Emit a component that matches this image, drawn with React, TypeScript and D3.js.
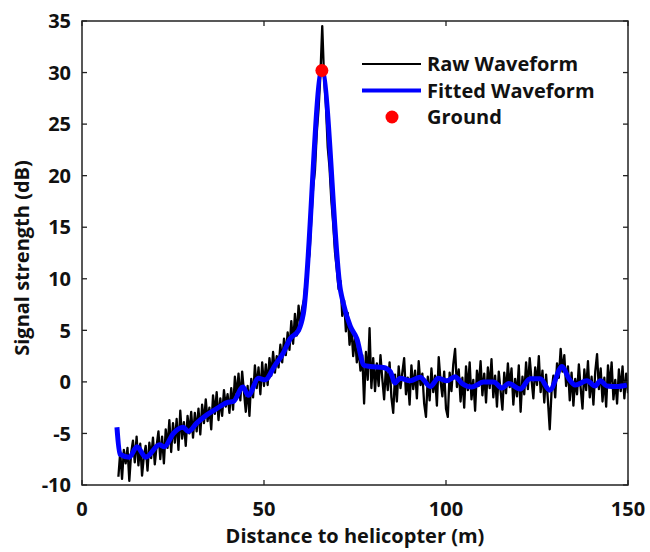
import React from "react";
import * as d3 from "d3";

// Raw waveform: signal strength (dB), sampled every 0.5 m from 10 m to 150 m
const rawStart = 10;
const rawStep = 0.5;
const rawSignal: number[] = [
  // 10.0 - 20.0
  -9.2, -6.8, -9.4, -6.6, -7.9, -6.4, -9.6, -6.9, -5.7, -7.8, -5.3, -8.1, -6.0, -9.1, -7.2, -6.2, -8.6, -5.9, -7.4, -5.4, -8.0,
  // 20.5 - 30.0
  -6.2, -4.8, -7.5, -5.3, -7.9, -4.6, -6.4, -3.7, -6.8, -4.0, -5.9, -3.6, -6.6, -2.8, -5.5, -3.9, -6.2, -3.3, -5.0, -2.9,
  // 30.5 - 40.0
  -5.4, -3.0, -4.8, -2.6, -5.1, -2.2, -4.0, -1.7, -3.8, -2.5, -4.6, -1.3, -3.1, -1.0, -3.7, -1.6, -3.3, -0.8, -2.4, -1.2,
  // 40.5 - 50.0
  -3.0, -0.6, -2.7, 0.5, -1.4, 0.8, -1.8, 1.0, -1.0, -2.9, -0.4, -3.3, 0.3, -1.5, 1.6, -0.6, 1.4, -1.2, 1.9, -0.4,
  // 50.5 - 60.0
  1.7, -0.3, 2.3, 0.6, 2.9, 0.9, 2.5, 1.4, 3.6, 1.9, 4.2, 2.6, 4.8, 3.1, 5.9, 3.7, 6.6, 4.5, 7.4, 5.6,
  // 60.5 - 80.0
  7.2, 8.0, 9.9, 11.2, 12.4, 15.8, 18.9, 20.5, 24.2, 26.5, 29.8, 34.5, 29.5, 26.9, 22.8, 20.8, 17.6, 15.4, 12.6, 10.9,
  9.0, 9.8, 6.4, 7.9, 4.9, 6.7, 3.6, 5.3, 2.5, 4.4, 1.9, 3.2, 1.1, 2.6, -2.1, 2.9, 0.2, 5.2, -0.6, 2.3,
  // 80.5 - 100.0
  -0.9, 1.8, -0.4, 2.6, 0.3, -1.7, 1.4, -0.8, 1.9, -1.5, -3.0, 0.7, -1.9, 1.5, -0.6, 0.9, 2.3, -1.2, 0.4, -2.2,
  1.6, -0.7, 1.1, -1.6, 2.0, -0.3, 0.8, -2.1, -3.4, 0.5, -1.8, 1.3, -1.0, 0.6, -2.3, 2.4, 0.1, -1.4, 1.0, -2.6,
  // 100.5 - 120.0
  -3.4, 0.9, -0.9, 1.7, 3.2, -0.5, 1.2, -1.9, 0.4, -2.5, 1.5, -0.8, 1.9, -1.7, 0.2, -2.8, 1.1, -0.4, 2.0, -1.3,
  0.8, -2.0, 1.4, -0.6, 2.2, -1.5, 0.6, -2.4, 1.0, -0.9, -2.7, 0.9, -1.1, 1.8, -0.5, 1.3, -2.2, 0.3, -1.4, 1.6,
  // 120.5 - 140.0
  -2.9, 0.5, -1.2, 1.9, -0.7, 2.3, 0.2, -1.6, 1.4, -0.3, 2.5, -1.0, 1.1, -2.0, 0.7, -1.8, -4.6, -0.9, 0.6, -1.5,
  1.8, 0.4, 3.2, 1.0, 2.6, -0.4, 1.5, -1.8, 0.9, -2.3, 0.3, -1.2, 1.7, -0.6, -2.6, 1.2, -0.8, 2.0, -1.5, 0.5,
  // 140.5 - 150.0
  -2.2, 1.0, 2.7, -0.7, 1.3, -1.9, 0.4, -2.4, 1.6, -0.5, 1.9, -1.7, 0.2, -2.1, 1.2, -0.9, 1.5, -1.6, 0.8, -1.1,
];

// Fitted waveform nodes
const fitDistance: number[] = [
  9.6, 10.4, 13.0, 15.1, 17.5, 21.3, 22.6, 25.1, 27.8, 29.2, 31.5, 34.3, 37.0, 39.8, 41.6, 44.2, 45.7, 48.5, 50.3,
  53.0, 55.3, 57.2, 59.5, 60.8, 65.9, 71.0, 71.8, 73.7, 75.5, 77.5, 79.2, 82.8, 84.7, 86.0, 87.4, 90.2, 92.9, 95.7,
  97.9, 100.2, 102.5, 104.4, 107.1, 110.3, 113.1, 115.4, 117.2, 120.4, 123.1, 125.9, 128.5, 131.9, 133.7, 135.5,
  138.7, 141.0, 142.4, 144.2, 146.9, 149.7,
];
const fitSignal: number[] = [
  -4.4, -7.0, -7.3, -6.3, -7.3, -6.1, -6.3, -5.0, -4.4, -4.8, -4.0, -3.2, -2.6, -2.0, -1.9, -0.5, -1.3, 0.35, 0.2,
  1.6, 2.8, 4.2, 5.0, 6.6, 30.2, 8.9, 7.6, 5.4, 4.2, 1.6, 1.5, 1.4, 1.0, -0.1, 0.35, 0.1, 0.45, -0.45,
  0.35, 0.1, 0.5, -0.15, -0.5, 0.0, 0.0, -0.6, -0.15, -0.7, 0.3, 0.3, -0.8, 1.5, 0.35, -0.3,
  0.1, -0.4, 0.1, -0.4, -0.45, -0.3,
];

const groundDistance = 65.9;
const groundSignal = 30.2;

const xTicks = [0, 50, 100, 150];
const yTicks = [-10, -5, 0, 5, 10, 15, 20, 25, 30, 35];
const legendLabels = ["Raw Waveform", "Fitted Waveform", "Ground"];

const W = 650;
const H = 552;
const M = { left: 82, right: 22, top: 21, bottom: 67 };
const FONT = "'Open Sans', sans-serif";
const FS = 20;

export default function App() {
  const x = d3.scaleLinear().domain([0, 150]).range([M.left, W - M.right]);
  const y = d3.scaleLinear().domain([-10, 35]).range([H - M.bottom, M.top]);

  const rawPts: [number, number][] = rawSignal.map((v, i) => [rawStart + i * rawStep, v]);
  const fitPts: [number, number][] = fitDistance.map((d, i) => [d, fitSignal[i]]);

  const rawLine = d3
    .line<[number, number]>()
    .x((d) => x(d[0]))
    .y((d) => y(d[1]));
  const fitLine = d3
    .line<[number, number]>()
    .x((d) => x(d[0]))
    .y((d) => y(d[1]))
    .curve(d3.curveMonotoneX);

  const x0 = x(0), x1 = x(150), y0 = y(-10), y1 = y(35);
  const tl = 5;
  const axisColor = "#222";

  const lgX = 362, lgTextX = 427, lgY = 64, lgDy = 26.5;

  return (
    <div style={{ position: "absolute", left: 0, top: 0 }}>
      <svg width={W} height={H} style={{ display: "block", background: "#fff" }}>
        <defs>
          <clipPath id="plotclip">
            <rect x={x0} y={y1} width={x1 - x0} height={y0 - y1} />
          </clipPath>
        </defs>
        <g clipPath="url(#plotclip)">
          <path d={rawLine(rawPts) || ""} fill="none" stroke="#000" strokeWidth={2.3} strokeLinejoin="round" />
          <path d={fitLine(fitPts) || ""} fill="none" stroke="#0000ff" strokeWidth={5} strokeLinejoin="round" />
          <circle cx={x(groundDistance)} cy={y(groundSignal)} r={6.5} fill="#ff0000" />
        </g>

        {/* box */}
        <rect x={x0} y={y1} width={x1 - x0} height={y0 - y1} fill="none" stroke={axisColor} strokeWidth={1.5} />
        {/* ticks */}
        {yTicks.map((t) => (
          <g key={"y" + t}>
            <line x1={x0} x2={x0 + tl} y1={y(t)} y2={y(t)} stroke={axisColor} strokeWidth={1.3} />
            <line x1={x1} x2={x1 - tl} y1={y(t)} y2={y(t)} stroke={axisColor} strokeWidth={1.3} />
            <text
              x={x0 - 11}
              y={y(t)}
              dy="0.36em"
              textAnchor="end"
              fontFamily={FONT}
              fontWeight="bold"
              fontSize={FS}
              fill="#111"
            >
              {t}
            </text>
          </g>
        ))}
        {xTicks.map((t) => (
          <g key={"x" + t}>
            <line x1={x(t)} x2={x(t)} y1={y0} y2={y0 - tl} stroke={axisColor} strokeWidth={1.3} />
            <line x1={x(t)} x2={x(t)} y1={y1} y2={y1 + tl} stroke={axisColor} strokeWidth={1.3} />
            <text
              x={x(t)}
              y={516}
              textAnchor="middle"
              fontFamily={FONT}
              fontWeight="bold"
              fontSize={FS}
              fill="#111"
            >
              {t}
            </text>
          </g>
        ))}

        {/* axis titles */}
        <text
          x={(x0 + x1) / 2}
          y={543}
          textAnchor="middle"
          fontFamily={FONT}
          fontWeight="bold"
          fontSize={FS}
          fill="#111"
        >
          Distance to helicopter (m)
        </text>
        <text
          transform={`translate(29,${(y0 + y1) / 2 + 5}) rotate(-90)`}
          textAnchor="middle"
          fontFamily={FONT}
          fontWeight="bold"
          fontSize={FS}
          fill="#111"
        >
          Signal strength (dB)
        </text>

        {/* legend */}
        <line x1={lgX} x2={lgX + 59} y1={lgY} y2={lgY} stroke="#000" strokeWidth={2} />
        <line x1={lgX} x2={lgX + 59} y1={lgY + lgDy} y2={lgY + lgDy} stroke="#0000ff" strokeWidth={4} />
        <circle cx={lgX + 30} cy={lgY + 2 * lgDy} r={6.5} fill="#ff0000" />
        {legendLabels.map((l, i) => (
          <text
            key={l}
            x={lgTextX}
            y={lgY + i * lgDy}
            dy="0.36em"
            fontFamily={FONT}
            fontWeight="bold"
            fontSize={FS}
            fill="#111"
          >
            {l}
          </text>
        ))}
      </svg>
    </div>
  );
}
